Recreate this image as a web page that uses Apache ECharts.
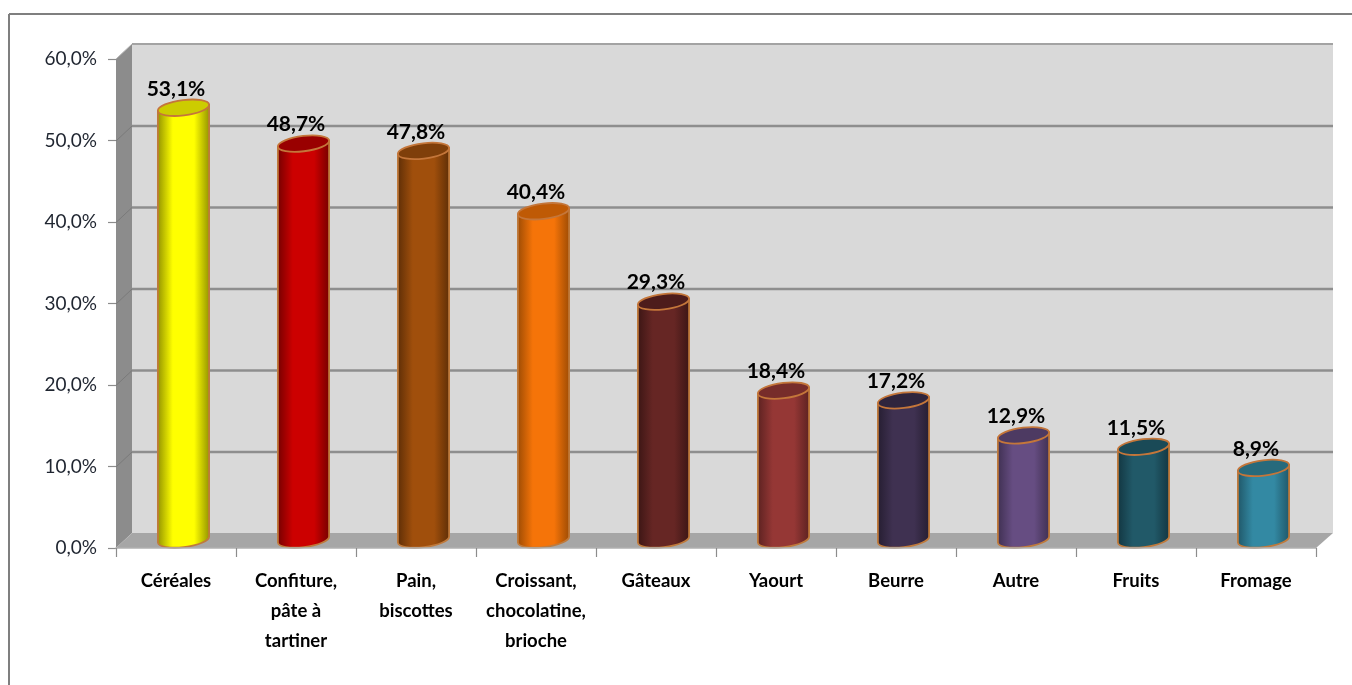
<!DOCTYPE html>
<html><head><meta charset="utf-8">
<style>html,body{margin:0;padding:0;background:#fff}#c{width:1352px;height:685px}</style>
<script src="https://cdn.jsdelivr.net/npm/echarts@6/dist/echarts.min.js"></script>
</head><body><div id="c"></div>
<script>
const categories = ['Céréales','Confiture,\npâte à\ntartiner','Pain,\nbiscottes','Croissant,\nchocolatine,\nbrioche','Gâteaux','Yaourt','Beurre','Autre','Fruits','Fromage'];
const values = [53.1,48.7,47.8,40.4,29.3,18.4,17.2,12.9,11.5,8.9];
const bodyColors = ['#ffff00','#cc0000','#a04f0c','#f57409','#662624','#953735','#3f3151','#664d82','#215968','#3389a3'];
const edgeColors = ['#8f8f00','#720000','#5c2d06','#9a4a04','#3a1514','#5a2120','#251d30','#3e2f50','#123540','#1f5566'];
const topColors = ['#cccc00','#990000','#7f3f0a','#bf5a05','#4d1c1b','#772c2a','#2f253d','#4d3a62','#1a4a57','#276a7c'];
const yMax = 60, yStep = 10;
const gridValues = [10,20,30,40,50];
const comma = v => v.toFixed(1).replace('.', ',') + '%';
const DX = 16, DY = 15;

const chart = echarts.init(document.getElementById('c'), null, {renderer:'canvas'});

function wallItem(params, api){
  const a = api.coord([0, 0]), b = api.coord([categories.length - 1, 0]);
  const cw = api.size([1, 0])[0];
  const x0 = a[0] - cw/2, x1 = b[0] + cw/2, y0 = a[1];
  const yt = api.coord([0, yMax])[1];
  const children = [
    {type:'polygon', shape:{points:[[x0+DX,yt-DY],[x1+DX+1,yt-DY],[x1+DX+1,y0-DY],[x0+DX,y0-DY]]}, style:{fill:'#d9d9d9'}},
    {type:'polygon', shape:{points:[[x0,yt],[x0+DX,yt-DY],[x0+DX,y0-DY],[x0,y0]]}, style:{fill:'#8c8c8c'}},
    {type:'polygon', shape:{points:[[x0,y0],[x0+DX,y0-DY],[x1+DX+1,y0-DY],[x1,y0]]}, style:{fill:'#a6a6a6'}},
    {type:'line', shape:{x1:x0+DX,y1:yt-DY,x2:x1+DX+1,y2:yt-DY}, style:{stroke:'#a3a3a3',lineWidth:2}},
    {type:'line', shape:{x1:x0,y1:yt,x2:x0+DX,y2:yt-DY}, style:{stroke:'#b5b5b5',lineWidth:1}}
  ];
  gridValues.forEach(v => {
    const y = api.coord([0, v])[1] + 0.5;
    children.push({type:'line', shape:{x1:x0+DX,y1:y-DY,x2:x1+DX+1,y2:y-DY}, style:{stroke:'#8e8e8e',lineWidth:2.6}});
    children.push({type:'line', shape:{x1:x0,y1:y,x2:x0+DX,y2:y-DY}, style:{stroke:'#7a7a7a',lineWidth:1}});
  });
  return {type:'group', children};
}

function cylItem(params, api){
  const i = api.value(0), v = api.value(1);
  const p = api.coord([i, v]), b = api.coord([i, 0]);
  const rx = 25.6, ry = 7.6, lift = 3;
  const cx = p[0] + DX/2 - 0.5, cy = p[1] - DY/2;
  const by = b[1] - DY/2 - 1;
  const L = cx - rx, R = cx + rx;
  const path = `M${L} ${cy+lift} L${L} ${by+lift} A${rx} ${ry} -7 0 0 ${R} ${by-lift} L${R} ${cy-lift} Z`;
  const top = `M${L} ${cy+lift} A${rx} ${ry} -7 1 1 ${R} ${cy-lift} A${rx} ${ry} -7 1 1 ${L} ${cy+lift} Z`;
  const grad = {type:'linear',x:0,y:0,x2:1,y2:0,colorStops:[
    {offset:0,color:edgeColors[i]},{offset:0.3,color:bodyColors[i]},{offset:0.7,color:bodyColors[i]},{offset:1,color:edgeColors[i]}]};
  return {type:'group', children:[
    {type:'path', shape:{pathData:path}, style:{fill:grad, stroke:'#bf7a3c', lineWidth:1.8}},
    {type:'path', shape:{pathData:top}, style:{fill:topColors[i], stroke:'#c4763a', lineWidth:1.8}},
    {type:'text', style:{x:p[0], y:cy-19, text:comma(v), align:'center', verticalAlign:'middle',
      font:'bold 21px Lato, "Open Sans", sans-serif', fill:'#000'}}
  ]};
}

chart.setOption({
  animation:false,
  backgroundColor:'#fff',
  graphic:[
    {type:'line', shape:{x1:9,y1:14,x2:1352,y2:14}, style:{stroke:'#7f7f7f',lineWidth:2}, silent:true, z:0},
    {type:'line', shape:{x1:9,y1:14,x2:9,y2:685}, style:{stroke:'#7f7f7f',lineWidth:2}, silent:true, z:0}
  ],
  grid:{left:116, width:1200, top:59, height:489, containLabel:false},
  xAxis:{type:'category', data:categories, boundaryGap:true,
    axisLine:{show:true,lineStyle:{color:'#b0b0b0',width:1.5}},
    axisTick:{show:true,alignWithLabel:false,length:9,lineStyle:{color:'#8c8c8c',width:1.2}},
    axisLabel:{interval:0,margin:18,lineHeight:30,fontSize:18.5,fontWeight:'bold',
      fontFamily:'Lato, "Open Sans", sans-serif',color:'#000',verticalAlign:'top'},
    z:5},
  yAxis:{type:'value', min:0, max:yMax, interval:yStep,
    axisLine:{show:false},
    axisTick:{show:true,length:8,lineStyle:{color:'#8c8c8c',width:1.2}},
    splitLine:{show:false},
    axisLabel:{margin:19,fontSize:19,padding:[6,0,0,0],fontFamily:'Lato, "Open Sans", sans-serif',color:'#1f2530',
      formatter:v => comma(v)}},
  series:[
    {type:'custom', renderItem:wallItem, data:[[0,0]], encode:{x:0,y:1}, silent:true, z:1, clip:false},
    {type:'custom', renderItem:cylItem, data:values.map((v,i)=>[i,v]), encode:{x:0,y:1}, silent:true, z:3, clip:false}
  ]
});
</script></body></html>
